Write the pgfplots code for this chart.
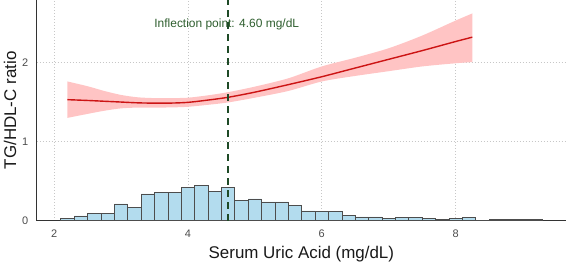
\documentclass[border=0pt]{standalone}
\usepackage{fontspec}
\setmainfont{Liberation Sans}
\usepackage{pgfplots}
\usepackage{pgfplotstable}
\usepgfplotslibrary{fillbetween}
\pgfplotsset{compat=1.18}

\definecolor{curvered}{HTML}{CC1414}
\definecolor{bandpink}{HTML}{FFC4C4}
\definecolor{histblue}{HTML}{B3DCEE}
\definecolor{histedge}{HTML}{4D4D4D}
\definecolor{inflgreen}{HTML}{1E4A26}
\definecolor{labgreen}{HTML}{2E5E2E}

% smoothed fit: x, estimate, lower and upper 95% limits
\pgfplotstableread{
x     y      lo     hi
2.20  1.530  1.300  1.760
2.50  1.520  1.350  1.700
2.75  1.510  1.390  1.640
3.00  1.500  1.420  1.590
3.25  1.490  1.430  1.560
3.50  1.486  1.430  1.550
3.75  1.487  1.432  1.550
4.00  1.496  1.440  1.555
4.30  1.525  1.465  1.585
4.60  1.560  1.495  1.625
5.00  1.625  1.555  1.695
5.50  1.720  1.640  1.800
6.00  1.820  1.760  1.950
6.50  1.930  1.830  2.060
7.00  2.040  1.890  2.180
7.50  2.150  1.950  2.340
8.00  2.265  1.990  2.530
8.25  2.320  2.005  2.620
}\fit

\begin{document}
\begin{tikzpicture}
\begin{axis}[
  scale only axis,
  width=529.3bp, height=220.7bp,
  xmin=1.74, xmax=9.65, ymin=0, ymax=2.79,
  axis x line*=bottom, axis y line*=left,
  axis line style={draw=black!80, line width=0.6bp, -},
  xtick={2,4,6,8}, ytick={0,1,2},
  major tick length=0pt,
  grid=major,
  major grid style={draw=black!22, dash pattern=on 1bp off 2bp, line width=0.6bp},
  /pgf/number format/assume math mode=true,
  tick label style={font=\fontsize{11}{12}\selectfont, text=black!70},
  xticklabel style={yshift=-5.5bp},
  yticklabel style={xshift=-5bp},
  xlabel={Serum Uric Acid (mg/dL)},
  ylabel={TG/HDL-C ratio},
  label style={font=\fontsize{17}{20}\selectfont, text=black!90},
  xlabel style={at={(axis description cs:0.5,0)}, anchor=base, yshift=-37.5bp},
  ylabel style={at={(axis description cs:0,0.5)}, anchor=base, yshift=20.7bp},
]

% distribution of serum uric acid (bins of 0.2 mg/dL)
\addplot[ybar interval, fill=histblue, draw=histedge, line width=0.6bp] coordinates {
  (2.1,0.028) (2.3,0.060) (2.5,0.093) (2.7,0.093) (2.9,0.212)
  (3.1,0.165) (3.3,0.340) (3.5,0.360) (3.7,0.360) (3.9,0.422)
  (4.1,0.448) (4.3,0.372) (4.5,0.418) (4.7,0.253) (4.9,0.276)
  (5.1,0.237) (5.3,0.237) (5.5,0.190) (5.7,0.124) (5.9,0.119)
  (6.1,0.119) (6.3,0.070) (6.5,0.047) (6.7,0.047) (6.9,0.030)
  (7.1,0.038) (7.3,0.038) (7.5,0.030) (7.7,0.016) (7.9,0.030)
  (8.1,0.038) (8.3,0.000) (8.5,0.012) (8.7,0.012) (8.9,0.012)
  (9.1,0.012) (9.3,0.000)
};

% confidence band
\addplot[draw=none, smooth, forget plot, name path=upper] table[x=x, y=hi] {\fit};
\addplot[draw=none, smooth, forget plot, name path=lower] table[x=x, y=lo] {\fit};
\addplot[bandpink, draw=none] fill between[of=upper and lower];

% fitted curve
\addplot[curvered, line width=1.4bp, smooth] table[x=x, y=y] {\fit};

\node[font=\fontsize{12}{14}\selectfont, text=labgreen, anchor=base]
  at (axis cs:4.58,2.443) {Inflection point: 4.60 mg/dL};

% inflection point
\addplot[inflgreen, line width=1.6bp, dash pattern=on 7bp off 5bp]
  coordinates {(4.6,0) (4.6,2.79)};
\end{axis}
\pgfresetboundingbox
\path[use as bounding box] (-36.7bp,-42.3bp) rectangle (530.3bp,220.7bp);
\end{tikzpicture}
\end{document}
